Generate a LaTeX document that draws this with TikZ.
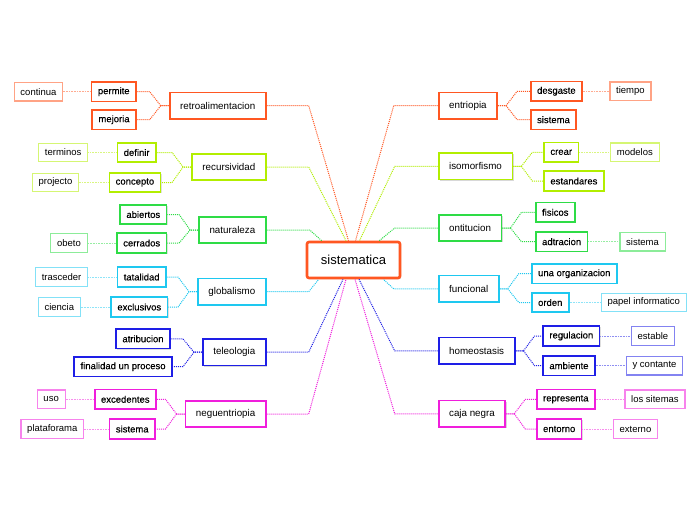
\documentclass[tikz,border=0pt]{standalone}
\usepackage{fontspec}
\setmainfont{Liberation Sans}
\newfontfamily\subfont{Liberation Sans}[FakeBold=0.35]
\usetikzlibrary{shadows}

\definecolor{corange}{RGB}{255,87,34}
\definecolor{clime}{RGB}{178,238,0}
\definecolor{cgreen}{RGB}{46,220,70}
\definecolor{ccyan}{RGB}{30,200,240}
\definecolor{cblue}{RGB}{30,30,230}
\definecolor{cmagenta}{RGB}{240,30,220}

\begin{document}
\begin{tikzpicture}[
    x=1pt, y=-1pt,
    hub/.style={
        rectangle, draw=corange, line width=2.6pt, rounded corners=2pt,
        fill=white, minimum width=93pt, minimum height=36pt,
        font=\fontsize{13}{15}\selectfont,
        drop shadow={shadow xshift=1.2pt, shadow yshift=-1.2pt, opacity=0.3}
    },
    topic/.style={
        rectangle, draw=#1, line width=1.8pt, fill=white,
        minimum height=26.5pt, inner xsep=10.5pt, inner ysep=0pt,
        font=\fontsize{9.8}{11}\selectfont,
        drop shadow={shadow xshift=1.2pt, shadow yshift=-1.2pt, opacity=0.3}
    },
    subbox/.style={
        rectangle, draw=#1, line width=1.6pt, fill=white,
        minimum height=19.5pt, inner xsep=6.3pt, inner ysep=0pt,
        font=\subfont\fontsize{9.5}{11}\selectfont,
        drop shadow={shadow xshift=1pt, shadow yshift=-1pt, opacity=0.25}
    },
    leaf/.style={
        rectangle, draw=#1!55!white, line width=1.2pt, fill=white,
        minimum height=18.5pt, inner xsep=6.3pt, inner ysep=0pt,
        font=\fontsize{9.5}{11}\selectfont
    },
    link/.style={draw=#1, line width=1pt, dash pattern=on 1pt off 1pt},
    leaflink/.style={draw=#1!50!white, line width=1pt, dash pattern=on 1pt off 0.6pt}
]
\fill[white] (0,0) rectangle (696,520);
\useasboundingbox (0,0) rectangle (696,520);

% ==================== CENTRE ====================
\node[hub] (sys) at (353.5,260) {sistematica};

% ==================== LEFT TOPICS ====================
\node[topic=corange, anchor=east] (retro) at (266.7,105.7) {retroalimentacion};
\node[topic=clime, anchor=east] (recur) at (266.7,167) {recursividad};
\node[topic=cgreen, anchor=east] (natur) at (266.7,230) {naturaleza};
\node[topic=ccyan, anchor=east] (global) at (266.7,291.7) {globalismo};
\node[topic=cblue, anchor=east] (teleo) at (266.7,352.2) {teleologia};
\node[topic=cmagenta, anchor=east] (negu) at (266.7,414) {neguentriopia};

% ==================== RIGHT TOPICS ====================
\node[topic=corange, anchor=west] (entrio) at (437.7,105.7) {entriopia};
\node[topic=clime, anchor=west] (isomorf) at (437.7,166.3) {isomorfismo};
\node[topic=cgreen, anchor=west] (ontit) at (437.7,228) {ontitucion};
\node[topic=ccyan, anchor=west] (funcion) at (437.7,288.8) {funcional};
\node[topic=cblue, anchor=west] (homeo) at (437.7,350.8) {homeostasis};
\node[topic=cmagenta, anchor=west] (caja) at (437.7,413.8) {caja negra};

% ==================== LEFT SUBTOPICS ====================
\node[subbox=corange, anchor=east] (permite) at (136.7,91.7) {permite};
\node[subbox=corange, anchor=east] (mejoria) at (136.7,119.7) {mejoria};
\node[subbox=clime, anchor=east] (definir) at (156.7,152.5) {definir};
\node[subbox=clime, anchor=east] (concepto) at (161.3,182.5) {concepto};
\node[subbox=cgreen, anchor=east] (abiertos) at (167.3,214.5) {abiertos};
\node[subbox=cgreen, anchor=east] (cerrados) at (167.3,243) {cerrados};
\node[subbox=ccyan, anchor=east] (tatal) at (166.7,277) {tatalidad};
\node[subbox=ccyan, anchor=east] (exclus) at (168.3,307) {exclusivos};
\node[subbox=cblue, anchor=east] (atrib) at (170.7,338.8) {atribucion};
\node[subbox=cblue, anchor=east] (final) at (172.7,366.7) {finalidad un proceso};
\node[subbox=cmagenta, anchor=east] (exced) at (156.7,399.3) {excedentes};
\node[subbox=cmagenta, anchor=east] (sistL) at (155.7,429) {sistema};

% ==================== RIGHT SUBTOPICS ====================
\node[subbox=corange, anchor=west] (desgaste) at (530,91.3) {desgaste};
\node[subbox=corange, anchor=west] (sistR) at (530,119.7) {sistema};
\node[subbox=clime, anchor=west] (crear) at (543.3,152.3) {crear};
\node[subbox=clime, anchor=west] (estand) at (543.3,181) {estandares};
\node[subbox=cgreen, anchor=west] (fisicos) at (535,212.3) {fisicos};
\node[subbox=cgreen, anchor=west] (adtrac) at (535,241.7) {adtracion};
\node[subbox=ccyan, anchor=west] (unaorg) at (531,273.7) {una organizacion};
\node[subbox=ccyan, anchor=west] (orden) at (531,302.5) {orden};
\node[subbox=cblue, anchor=west] (regul) at (542.3,336) {regulacion};
\node[subbox=cblue, anchor=west] (ambien) at (542.3,365.7) {ambiente};
\node[subbox=cmagenta, anchor=west] (repres) at (536,399.3) {representa};
\node[subbox=cmagenta, anchor=west] (entorno) at (536,429) {entorno};

% ==================== LEAVES ====================
\node[leaf=corange, anchor=east] (continua) at (63.3,91.7) {continua};
\node[leaf=clime, anchor=east] (terminos) at (88.3,152.5) {terminos};
\node[leaf=clime, anchor=east] (projecto) at (79.3,182.5) {projecto};
\node[leaf=cgreen, anchor=east] (obeto) at (87.7,243) {obeto};
\node[leaf=ccyan, anchor=east] (trasc) at (88.3,277) {trasceder};
\node[leaf=ccyan, anchor=east] (ciencia) at (81,307) {ciencia};
\node[leaf=cmagenta, anchor=east] (uso) at (65.7,399.3) {uso};
\node[leaf=cmagenta, anchor=east] (plataf) at (84.3,429) {plataforama};

\node[leaf=corange, anchor=west] (tiempo) at (609.3,91.3) {tiempo};
\node[leaf=clime, anchor=west] (modelos) at (610,152.3) {modelos};
\node[leaf=cgreen, anchor=west] (sistLeaf) at (619.3,241.7) {sistema};
\node[leaf=ccyan, anchor=west] (papel) at (600.7,302.5) {papel informatico};
\node[leaf=cblue, anchor=west] (estable) at (630.7,336) {estable};
\node[leaf=cblue, anchor=west] (contante) at (625.7,365.7) {y contante};
\node[leaf=cmagenta, anchor=west] (sitemas) at (624.3,399.3) {los sitemas};
\node[leaf=cmagenta, anchor=west] (externo) at (612.7,429) {externo};

% ==================== CENTRE LINKS ====================
\draw[link=corange] (retro.east) -- ++(42,0) -- ([xshift=-5pt]sys.north);
\draw[link=clime] (recur.east) -- ++(42,0) -- ([xshift=-7.5pt]sys.north);
\draw[link=cgreen] (natur.east) -- ++(43,0) -- ([xshift=16pt]sys.north west);
\draw[link=ccyan] (global.east) -- ++(42,0) -- ([xshift=13pt]sys.south west);
\draw[link=cblue] (teleo.east) -- ++(42,0) -- ([xshift=-10.5pt]sys.south);
\draw[link=cmagenta] (negu.east) -- ++(42,0) -- ([xshift=-7.5pt]sys.south);

\draw[link=corange] (entrio.west) -- ++(-44,0) -- ([xshift=2pt]sys.north);
\draw[link=clime] (isomorf.west) -- ++(-43,0) -- ([xshift=6pt]sys.north);
\draw[link=cgreen] (ontit.west) -- ++(-43,0) -- ([xshift=-22pt]sys.north east);
\draw[link=ccyan] (funcion.west) -- ++(-44,0) -- ([xshift=-18pt]sys.south east);
\draw[link=cblue] (homeo.west) -- ++(-43,0) -- ([xshift=5.5pt]sys.south);
\draw[link=cmagenta] (caja.west) -- ++(-43,0) -- ([xshift=1.5pt]sys.south);

% ==================== FORKS (left) ====================
\draw[link=corange] (retro.west) -- ++(-8,0) -- ([xshift=-19pt]retro.west |- permite) -- (permite.east);
\draw[link=corange] (retro.west) -- ++(-8,0) -- ([xshift=-19pt]retro.west |- mejoria) -- (mejoria.east);
\draw[link=clime] (recur.west) -- ++(-8,0) -- ([xshift=-19pt]recur.west |- definir) -- (definir.east);
\draw[link=clime] (recur.west) -- ++(-8,0) -- ([xshift=-19pt]recur.west |- concepto) -- (concepto.east);
\draw[link=cgreen] (natur.west) -- ++(-8,0) -- ([xshift=-19pt]natur.west |- abiertos) -- (abiertos.east);
\draw[link=cgreen] (natur.west) -- ++(-8,0) -- ([xshift=-19pt]natur.west |- cerrados) -- (cerrados.east);
\draw[link=ccyan] (global.west) -- ++(-8,0) -- ([xshift=-19pt]global.west |- tatal) -- (tatal.east);
\draw[link=ccyan] (global.west) -- ++(-8,0) -- ([xshift=-19pt]global.west |- exclus) -- (exclus.east);
\draw[link=cblue] (teleo.west) -- ++(-8,0) -- ([xshift=-19pt]teleo.west |- atrib) -- (atrib.east);
\draw[link=cblue] (teleo.west) -- ++(-8,0) -- ([xshift=-19pt]teleo.west |- final) -- (final.east);
\draw[link=cmagenta] (negu.west) -- ++(-8,0) -- ([xshift=-19pt]negu.west |- exced) -- (exced.east);
\draw[link=cmagenta] (negu.west) -- ++(-8,0) -- ([xshift=-19pt]negu.west |- sistL) -- (sistL.east);

% ==================== FORKS (right) ====================
\draw[link=corange] (entrio.east) -- ++(8,0) -- ([xshift=19pt]entrio.east |- desgaste) -- (desgaste.west);
\draw[link=corange] (entrio.east) -- ++(8,0) -- ([xshift=19pt]entrio.east |- sistR) -- (sistR.west);
\draw[link=clime] (isomorf.east) -- ++(8,0) -- ([xshift=19pt]isomorf.east |- crear) -- (crear.west);
\draw[link=clime] (isomorf.east) -- ++(8,0) -- ([xshift=19pt]isomorf.east |- estand) -- (estand.west);
\draw[link=cgreen] (ontit.east) -- ++(8,0) -- ([xshift=19pt]ontit.east |- fisicos) -- (fisicos.west);
\draw[link=cgreen] (ontit.east) -- ++(8,0) -- ([xshift=19pt]ontit.east |- adtrac) -- (adtrac.west);
\draw[link=ccyan] (funcion.east) -- ++(8,0) -- ([xshift=19pt]funcion.east |- unaorg) -- (unaorg.west);
\draw[link=ccyan] (funcion.east) -- ++(8,0) -- ([xshift=19pt]funcion.east |- orden) -- (orden.west);
\draw[link=cblue] (homeo.east) -- ++(8,0) -- ([xshift=19pt]homeo.east |- regul) -- (regul.west);
\draw[link=cblue] (homeo.east) -- ++(8,0) -- ([xshift=19pt]homeo.east |- ambien) -- (ambien.west);
\draw[link=cmagenta] (caja.east) -- ++(8,0) -- ([xshift=19pt]caja.east |- repres) -- (repres.west);
\draw[link=cmagenta] (caja.east) -- ++(8,0) -- ([xshift=19pt]caja.east |- entorno) -- (entorno.west);

% ==================== LEAF LINKS ====================
\draw[leaflink=corange] (permite.west) -- (continua.east);
\draw[leaflink=clime] (definir.west) -- (terminos.east);
\draw[leaflink=clime] (concepto.west) -- (projecto.east);
\draw[leaflink=cgreen] (cerrados.west) -- (obeto.east);
\draw[leaflink=ccyan] (tatal.west) -- (trasc.east);
\draw[leaflink=ccyan] (exclus.west) -- (ciencia.east);
\draw[leaflink=cmagenta] (exced.west) -- (uso.east);
\draw[leaflink=cmagenta] (sistL.west) -- (plataf.east);

\draw[leaflink=corange] (desgaste.east) -- (tiempo.west);
\draw[leaflink=clime] (crear.east) -- (modelos.west);
\draw[leaflink=cgreen] (adtrac.east) -- (sistLeaf.west);
\draw[leaflink=ccyan] (orden.east) -- (papel.west);
\draw[leaflink=cblue] (regul.east) -- (estable.west);
\draw[leaflink=cblue] (ambien.east) -- (contante.west);
\draw[leaflink=cmagenta] (repres.east) -- (sitemas.west);
\draw[leaflink=cmagenta] (entorno.east) -- (externo.west);

\end{tikzpicture}
\end{document}
